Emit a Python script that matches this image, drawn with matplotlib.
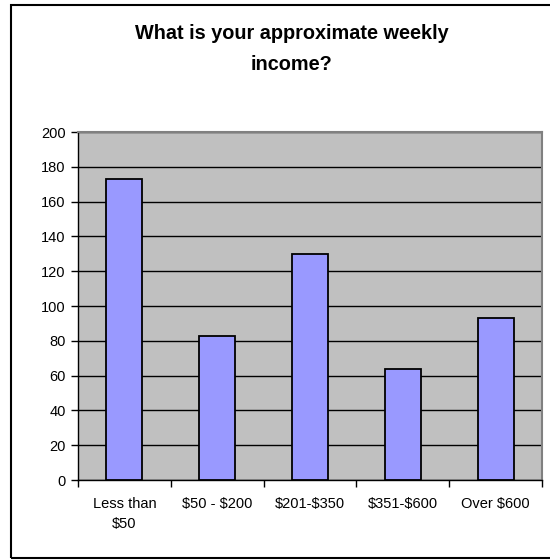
import matplotlib
matplotlib.use("Agg")
import matplotlib.pyplot as plt
from matplotlib.patches import Rectangle
import numpy as np

plt.rcParams['font.family'] = ['Liberation Sans', 'DejaVu Sans']
plt.rcParams['text.parse_math'] = False  # keep the $ signs literal

# survey answers
categories = ["Less than\n$50", "$50 - $200", "$201-$350", "$351-$600", "Over $600"]
counts = [173, 83, 130, 64, 93]
yticks = [0, 20, 40, 60, 80, 100, 120, 140, 160, 180, 200]
title = "What is your approximate weekly\nincome?"

W, H = 550, 560
fig = plt.figure(figsize=(W / 100, H / 100), dpi=100)

# outer chart border (right side is cut off in the original)
fig.patches.append(Rectangle((11 / W, 1 - 558 / H), 1.0, (558 - 4.5) / H,
                             transform=fig.transFigure, fill=False,
                             edgecolor="black", linewidth=1.5))

ax = fig.add_axes([78 / W, 1 - 480 / H, (542 - 78) / W, (480 - 132) / H])
ax.set_facecolor("#C0C0C0")

x = np.arange(len(categories))
ax.bar(x, counts, width=0.39, color="#9999FF", edgecolor="black",
       linewidth=1.3, zorder=3)

ax.set_xlim(-0.5, len(categories) - 0.5)
ax.set_ylim(0, 200)
ax.set_yticks(yticks)
ax.set_yticklabels([str(v) for v in yticks], fontsize=10.5)
ax.yaxis.grid(True, color="black", linewidth=1.0, zorder=1)
ax.set_axisbelow(True)

ax.set_xticks(x)
ax.set_xticklabels(categories, fontsize=10.5, linespacing=1.6)
ax.tick_params(axis="x", which="major", length=0, pad=12)
ax.set_xticks(np.arange(len(categories) + 1) - 0.5, minor=True)
ax.tick_params(axis="x", which="minor", length=5, width=1, color="black")
ax.tick_params(axis="y", length=5, width=1, color="black", pad=4)

for s in ["top", "right"]:
    ax.spines[s].set_color("#808080")
    ax.spines[s].set_linewidth(1.5)
for s in ["left", "bottom"]:
    ax.spines[s].set_color("black")
    ax.spines[s].set_linewidth(1.0)

fig.text(292 / W, 1 - 49 / H, title, ha="center", va="center",
         fontsize=14.3, fontweight="bold", linespacing=1.85)

fig.savefig("out.png", dpi=100)
